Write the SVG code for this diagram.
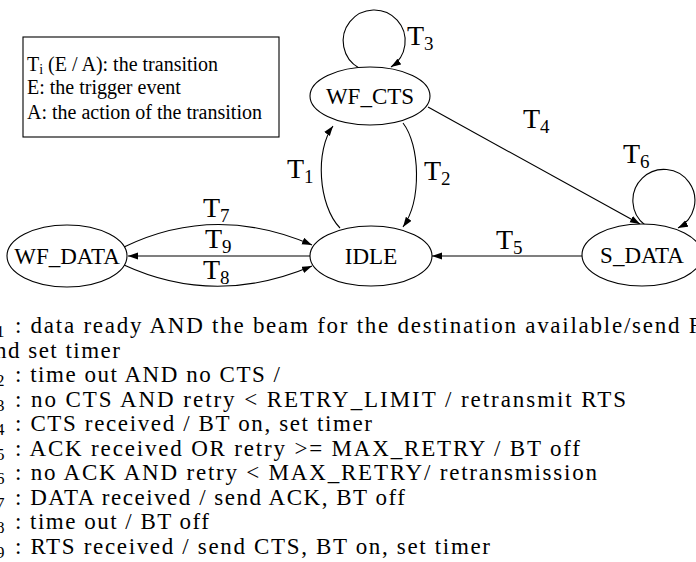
<svg xmlns="http://www.w3.org/2000/svg" width="696" height="562" viewBox="0 0 696 562">
<style>
  .node ellipse { fill: #fff; stroke: #000; stroke-width: 1.1; }
  .lbl { font-family: "Times New Roman", "Liberation Serif", serif; font-size: 23px; text-anchor: middle; fill: #000; }
  .tl { font-family: "Liberation Serif", "Times New Roman", serif; font-size: 28px; fill: #000; }
  .tl tspan { font-size: 19px; }
  .edge { fill: none; stroke: #000; stroke-width: 1.1; marker-end: url(#arr); }
  .leg { font-family: "Liberation Serif", "Times New Roman", serif; font-size: 20px; fill: #000; }
  .b { font-family: "Times New Roman", "Liberation Serif", serif; font-size: 23px; fill: #000; }
  .bs { font-family: "Liberation Serif", "Times New Roman", serif; font-size: 17px; fill: #000; }
</style>
<defs>
  <marker id="arr" markerUnits="userSpaceOnUse" markerWidth="11" markerHeight="8" refX="10" refY="3.5" orient="auto">
    <path d="M0,0 L10,3.5 L0,7 z" fill="#000"/>
  </marker>
</defs>
<rect width="696" height="562" fill="#fff"/>

<g id="legend">
  <rect x="23" y="37" width="256" height="100" fill="#fff" stroke="#000" stroke-width="1.1"/>
  <text class="leg" x="27" y="71">T<tspan font-size="14" dy="3">i</tspan><tspan dy="-3"> (E / A): the transition</tspan></text>
  <text class="leg" x="27" y="94">E: the trigger event</text>
  <text class="leg" x="27" y="119">A: the action of the transition</text>
</g>

<g id="connectors">
  <path id="e-t1" class="edge" d="M340,228 C318,205 315,150 333,126"/>
  <path id="e-t2" class="edge" d="M403,123 C420,145 422,200 403,227"/>
  <path id="e-t3" class="edge" d="M359,68 A31,31 0 1 1 391,67"/>
  <path id="e-t4" class="edge" d="M428,107 L640,224"/>
  <path id="e-t5" class="edge" d="M582,256 L432,256"/>
  <path id="e-t6" class="edge" d="M645,225 A31,31 0 1 1 678,228"/>
  <path id="e-t7" class="edge" d="M124,247 Q215,203 312,245"/>
  <path id="e-t8" class="edge" d="M124,265 Q215,307 312,266"/>
  <path id="e-t9" class="edge" d="M310,256 L128,256"/>
  <text class="tl" x="287" y="178">T<tspan dy="5">1</tspan></text>
  <text class="tl" x="424" y="180">T<tspan dy="5">2</tspan></text>
  <text class="tl" x="407" y="45">T<tspan dy="5">3</tspan></text>
  <text class="tl" x="523" y="128">T<tspan dy="5">4</tspan></text>
  <text class="tl" x="496" y="249">T<tspan dy="5">5</tspan></text>
  <text class="tl" x="623" y="163">T<tspan dy="5">6</tspan></text>
  <text class="tl" x="203" y="217">T<tspan dy="5">7</tspan></text>
  <text class="tl" x="205" y="248">T<tspan dy="5">9</tspan></text>
  <text class="tl" x="203" y="279">T<tspan dy="5">8</tspan></text>
</g>

<g id="WF_CTS" class="node">
  <ellipse cx="370" cy="96" rx="60" ry="29"/>
  <text class="lbl" x="370" y="104">WF_CTS</text>
</g>
<g id="IDLE" class="node">
  <ellipse cx="371" cy="256" rx="61" ry="30"/>
  <text class="lbl" x="371" y="264">IDLE</text>
</g>
<g id="S_DATA" class="node">
  <ellipse cx="642" cy="255" rx="60" ry="31"/>
  <text class="lbl" x="642" y="263">S_DATA</text>
</g>
<g id="WF_DATA" class="node">
  <ellipse cx="67" cy="256" rx="60" ry="31"/>
  <text class="lbl" x="67" y="264">WF_DATA</text>
</g>

<g id="descriptions">
  <text class="bs" x="-4" y="337">1</text>
  <text class="b" x="15" y="333" textLength="689" lengthAdjust="spacing">: data ready AND the beam for the destination available/send R</text>
  <text class="b" x="-5" y="357.5" textLength="125" lengthAdjust="spacing">nd set timer</text>
  <text class="bs" x="-4" y="386">2</text>
  <text class="b" x="15" y="382" textLength="265" lengthAdjust="spacing">: time out AND no CTS /</text>
  <text class="bs" x="-4" y="410.5">3</text>
  <text class="b" x="15" y="406.5" textLength="611" lengthAdjust="spacing">: no CTS AND retry &lt; RETRY_LIMIT / retransmit RTS</text>
  <text class="bs" x="-4" y="435">4</text>
  <text class="b" x="15" y="431" textLength="357" lengthAdjust="spacing">: CTS received / BT on, set timer</text>
  <text class="bs" x="-4" y="459.5">5</text>
  <text class="b" x="15" y="455.5" textLength="565" lengthAdjust="spacing">: ACK received OR retry &gt;= MAX_RETRY / BT off</text>
  <text class="bs" x="-4" y="484">6</text>
  <text class="b" x="15" y="480" textLength="582" lengthAdjust="spacing">: no ACK AND retry &lt; MAX_RETRY/ retransmission</text>
  <text class="bs" x="-4" y="508.5">7</text>
  <text class="b" x="15" y="504.5" textLength="390" lengthAdjust="spacing">: DATA received / send ACK, BT off</text>
  <text class="bs" x="-4" y="533">8</text>
  <text class="b" x="15" y="529" textLength="194" lengthAdjust="spacing">: time out / BT off</text>
  <text class="bs" x="-4" y="557.5">9</text>
  <text class="b" x="15" y="553.5" textLength="475" lengthAdjust="spacing">: RTS received / send CTS, BT on, set timer</text>
</g>
</svg>
